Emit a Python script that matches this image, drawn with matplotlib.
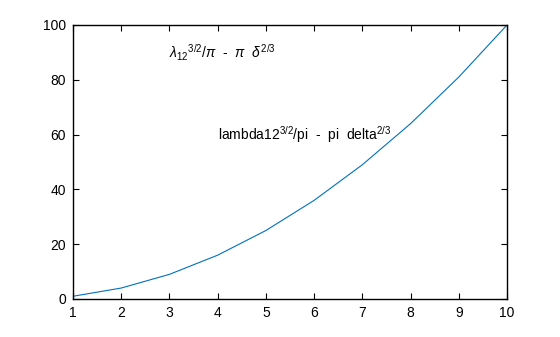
import matplotlib
matplotlib.use('Agg')
import matplotlib.pyplot as plt

x = [1, 2, 3, 4, 5, 6, 7, 8, 9, 10]
y = [1, 4, 9, 16, 25, 36, 49, 64, 81, 100]

xticks = [1, 2, 3, 4, 5, 6, 7, 8, 9, 10]
yticks = [0, 20, 40, 60, 80, 100]

label_tex = r'$\lambda_{12}{}^{3/2}/\pi$  -  $\pi$  $\delta^{2/3}$'
label_plain = r'lambda12$^{3/2}$/pi  -  pi  delta$^{2/3}$'


def main():
    plt.rcParams['font.family'] = ['Liberation Sans', 'DejaVu Sans']
    plt.rcParams['mathtext.fontset'] = 'custom'
    plt.rcParams['mathtext.rm'] = 'Liberation Sans'
    plt.rcParams['mathtext.it'] = 'Liberation Sans:italic'
    plt.rcParams['mathtext.bf'] = 'Liberation Sans:bold'

    fig = plt.figure(figsize=(5.6, 3.37), dpi=100)
    ax = fig.add_axes([73 / 560, 1 - 299 / 337, 434 / 560, 274 / 337])
    ax.plot(x, y, color='#0072BD', linewidth=0.8)

    ax.set_xlim(1, 10)
    ax.set_ylim(0, 100)
    ax.set_xticks(xticks)
    ax.set_yticks(yticks)
    ax.tick_params(direction='in', top=True, right=True, length=4,
                   width=0.8, labelsize=10, pad=5)
    for s in ax.spines.values():
        s.set_linewidth(1.0)

    ax.text(3, 90, label_tex, fontsize=10, ha='left', va='center')
    ax.text(4, 60, label_plain, fontsize=10, ha='left', va='center')

    fig.savefig('out.png', dpi=100)


if __name__ == '__main__':
    main()
